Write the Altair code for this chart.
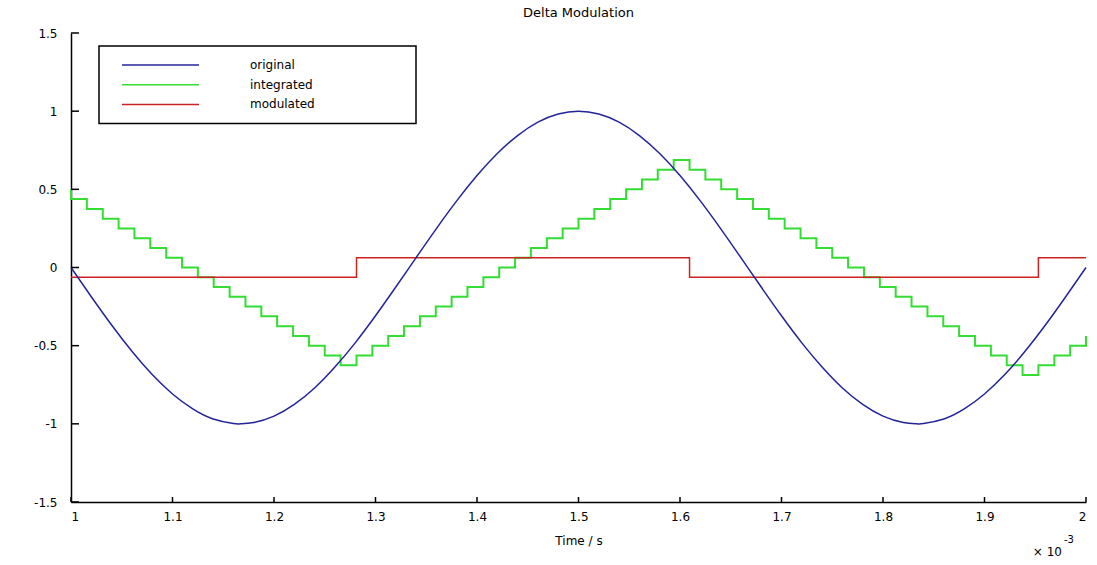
import altair as alt
import pandas as pd

# ---------------- data (time axis in units of 10^-3 s) ----------------
orig_t = [1.00, 1.02, 1.04, 1.06, 1.08, 1.10, 1.12, 1.14, 1.16, 1.1667, 1.18,
          1.20, 1.22, 1.24, 1.26, 1.28, 1.30, 1.32, 1.34, 1.36, 1.38,
          1.40, 1.42, 1.44, 1.46, 1.48, 1.50, 1.52, 1.54, 1.56, 1.58,
          1.60, 1.62, 1.64, 1.66, 1.68, 1.70, 1.72, 1.74, 1.76, 1.78,
          1.80, 1.82, 1.8333, 1.84, 1.86, 1.88, 1.90, 1.92, 1.94, 1.96, 1.98, 2.00]
orig_v = [0.0, -0.187, -0.368, -0.536, -0.685, -0.809, -0.905, -0.969, -0.998, -1.0, -0.992,
          -0.951, -0.876, -0.771, -0.637, -0.482, -0.309, -0.125, 0.063, 0.249, 0.426,
          0.588, 0.729, 0.844, 0.930, 0.982, 1.0, 0.982, 0.930, 0.844, 0.729,
          0.588, 0.426, 0.249, 0.063, -0.125, -0.309, -0.482, -0.637, -0.771, -0.876,
          -0.951, -0.992, -1.0, -0.998, -0.969, -0.905, -0.809, -0.685, -0.536, -0.368, -0.187, 0.0]

integ_t = [1.0, 1.0, 1.0156, 1.0313, 1.0469, 1.0625, 1.0781, 1.0938, 1.1094, 1.125,
           1.1406, 1.1563, 1.1719, 1.1875, 1.2031, 1.2188, 1.2344, 1.25, 1.2656,
           1.2813, 1.2969, 1.3125, 1.3281, 1.3438, 1.3594, 1.375, 1.3906, 1.4063,
           1.4219, 1.4375, 1.4531, 1.4688, 1.4844, 1.5, 1.5156, 1.5313, 1.5469,
           1.5625, 1.5781, 1.5938, 1.6094, 1.625, 1.6406, 1.6563, 1.6719, 1.6875,
           1.7031, 1.7188, 1.7344, 1.75, 1.7656, 1.7813, 1.7969, 1.8125, 1.8281,
           1.8438, 1.8594, 1.875, 1.8906, 1.9063, 1.9219, 1.9375, 1.9531, 1.9688,
           1.9844, 2.0]
integ_v = [0.5, 0.4375, 0.375, 0.3125, 0.25, 0.1875, 0.125, 0.0625, 0.0, -0.0625,
           -0.125, -0.1875, -0.25, -0.3125, -0.375, -0.4375, -0.5, -0.5625, -0.625,
           -0.5625, -0.5, -0.4375, -0.375, -0.3125, -0.25, -0.1875, -0.125, -0.0625,
           0.0, 0.0625, 0.125, 0.1875, 0.25, 0.3125, 0.375, 0.4375, 0.5, 0.5625,
           0.625, 0.6875, 0.625, 0.5625, 0.5, 0.4375, 0.375, 0.3125, 0.25, 0.1875,
           0.125, 0.0625, 0.0, -0.0625, -0.125, -0.1875, -0.25, -0.3125, -0.375,
           -0.4375, -0.5, -0.5625, -0.625, -0.6875, -0.625, -0.5625, -0.5, -0.4375]

mod_t = [1.0, 1.2813, 1.6094, 1.9531, 2.0]
mod_v = [-0.0625, 0.0625, -0.0625, 0.0625, 0.0625]

x_ticks = [1, 1.1, 1.2, 1.3, 1.4, 1.5, 1.6, 1.7, 1.8, 1.9, 2]
y_ticks = [-1.5, -1, -0.5, 0, 0.5, 1, 1.5]

series = ["original", "integrated", "modulated"]
colors = ["#24249a", "#33dd33", "#cc2222"]

# ---------------- styling ----------------
W, H = 1015, 469
FONT = "DejaVu Sans"

df_orig = pd.DataFrame({"t": orig_t, "v": orig_v, "i": range(len(orig_t))})
df_integ = pd.DataFrame({"t": integ_t, "v": integ_v, "i": range(len(integ_t))})
df_mod = pd.DataFrame({"t": mod_t, "v": mod_v, "i": range(len(mod_t))})
df_xt = pd.DataFrame({"t": x_ticks})
df_yt = pd.DataFrame({"v": y_ticks})
one = pd.DataFrame({"k": [0]})

xscale = alt.Scale(domain=[1, 2], nice=False, zero=False)
yscale = alt.Scale(domain=[-1.5, 1.5], nice=False, zero=False)

xaxis = alt.Axis(values=x_ticks, labelExpr="'' + datum.value", ticks=False, grid=False,
                 domainColor="black", domainWidth=1.5, labelColor="black",
                 labelFont=FONT, labelFontSize=12, labelPadding=9,
                 titleFont=FONT, titleFontSize=12, titleFontWeight="normal",
                 titleColor="black", titleBaseline="middle", titleY=38)
yaxis = alt.Axis(values=y_ticks, labelExpr="'' + datum.value", ticks=False, grid=False,
                 domainColor="black", domainWidth=1.5, labelColor="black",
                 labelFont=FONT, labelFontSize=12, labelPadding=14)

X = alt.X("t:Q", scale=xscale, axis=xaxis, title="Time / s")
Y = alt.Y("v:Q", scale=yscale, axis=yaxis, title=None)

integ_line = alt.Chart(df_integ).mark_line(
    interpolate="step-after", color=colors[1], strokeWidth=2
).encode(x=X, y=Y, order="i:Q")

mod_line = alt.Chart(df_mod).mark_line(
    interpolate="step-after", color=colors[2], strokeWidth=1.5
).encode(x=X, y=Y, order="i:Q")

orig_line = alt.Chart(df_orig).mark_line(
    interpolate="natural", color=colors[0], strokeWidth=1.5
).encode(x=X, y=Y, order="i:Q")

# inward tick marks (MATLAB style)
yticks_layer = alt.Chart(df_yt).mark_rule(color="black", strokeWidth=1.5).encode(
    y=Y, x=alt.value(0), x2=alt.value(8))
xticks_layer = alt.Chart(df_xt).mark_rule(color="black", strokeWidth=1.5).encode(
    x=X, y=alt.value(H), y2=alt.value(H - 5))

# legend box
legend_box = alt.Chart(one).mark_rect(fill="white", stroke="black", strokeWidth=1.5).encode(
    x=alt.value(28), x2=alt.value(345), y=alt.value(13), y2=alt.value(90.5))

legend_layers = []
for i, (name, col) in enumerate(zip(series, colors)):
    yy = 32 + 19.7 * i
    legend_layers.append(
        alt.Chart(one).mark_rule(color=col, strokeWidth=1.5).encode(
            x=alt.value(51), x2=alt.value(128), y=alt.value(yy)))
    legend_layers.append(
        alt.Chart(one).mark_text(align="left", baseline="middle", font=FONT,
                                 fontSize=12, color="black").encode(
            x=alt.value(179), y=alt.value(yy), text=alt.value(name)))

# exponent annotation
exp_base = alt.Chart(one).mark_text(align="right", baseline="middle", font=FONT,
                                    fontSize=12, color="black").encode(
    x=alt.value(991), y=alt.value(518.5), text=alt.value("× 10"))
exp_pow = alt.Chart(one).mark_text(align="left", baseline="middle", font=FONT,
                                   fontSize=10, color="black").encode(
    x=alt.value(993), y=alt.value(507), text=alt.value("-3"))

chart = alt.layer(
    integ_line, mod_line, orig_line, yticks_layer, xticks_layer,
    legend_box, *legend_layers, exp_base, exp_pow
).properties(
    width=W, height=H,
    title=alt.TitleParams("Delta Modulation", font=FONT, fontSize=13,
                          fontWeight="normal", color="black", anchor="middle", offset=7),
    autosize=alt.AutoSizeParams(type="none"),
    padding={"left": 71, "top": 33, "right": 11, "bottom": 63},
    background="white",
).configure_view(stroke="transparent")

chart.save("out.html", embed_options={"renderer": "svg", "actions": False})
